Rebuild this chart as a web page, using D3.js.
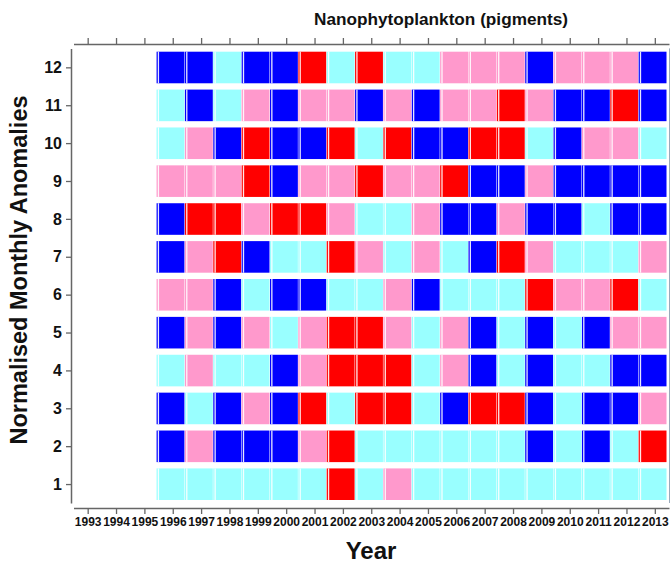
<!DOCTYPE html>
<html>
<head>
<meta charset="utf-8">
<script src="https://cdn.jsdelivr.net/npm/d3@7"></script>
<style>
  html, body { margin: 0; padding: 0; background: #fff; }
  svg { display: block; font-family: Arial, "Liberation Sans", sans-serif; }
</style>
</head>
<body>
<svg id="chart" width="671" height="564"></svg>
<script>
// ---- data ----
const years = [1996,1997,1998,1999,2000,2001,2002,2003,2004,2005,2006,2007,2008,2009,2010,2011,2012,2013];
const tickYears = d3.range(1993, 2014);
const months = [1,2,3,4,5,6,7,8,9,10,11,12];
// anomaly class per month (rows) per year: B = strong negative, C = weak negative, P = weak positive, R = strong positive
const month1  = ["C","C","C","C","C","C","R","C","P","C","C","C","C","C","C","C","C","C"];
const month2  = ["B","P","B","B","B","P","R","C","C","C","C","C","C","B","C","B","C","R"];
const month3  = ["B","C","B","P","B","R","C","R","R","C","B","R","R","B","C","B","B","P"];
const month4  = ["C","P","C","C","B","P","R","R","R","C","P","B","C","B","C","C","B","B"];
const month5  = ["B","P","B","P","C","P","R","R","P","C","P","B","C","B","C","B","P","P"];
const month6  = ["P","P","B","C","B","B","C","C","P","B","C","C","C","R","P","P","R","C"];
const month7  = ["B","P","R","B","C","C","R","P","C","P","C","B","R","P","C","C","C","P"];
const month8  = ["B","R","R","P","R","R","P","C","C","P","B","B","P","B","B","C","B","B"];
const month9  = ["P","P","P","R","B","P","P","R","P","P","R","B","B","P","B","B","B","B"];
const month10 = ["C","P","B","R","B","B","R","C","R","B","B","R","R","C","B","P","P","C"];
const month11 = ["C","B","C","P","B","P","P","B","P","B","P","P","R","P","B","B","R","B"];
const month12 = ["B","B","C","B","B","R","C","R","C","C","P","P","P","B","P","P","P","B"];
const monthRows = [month1,month2,month3,month4,month5,month6,month7,month8,month9,month10,month11,month12];
const classColors = {B: "#0000FF", C: "#99FFFF", P: "#FF99CC", R: "#FF0000"};

const titleText = "Nanophytoplankton (pigments)";
const xTitle = "Year";
const yTitle = "Normalised Monthly Anomalies";

// ---- drawing ----
const svg = d3.select("#chart");
const x = d3.scaleLinear().domain([1992.5, 2013.5]).range([73.5, 669]);
const y = d3.scaleLinear().domain([0.5, 12.5]).range([503, 48.4]);
const axisColor = "#666";

const cells = [];
months.forEach((m, i) => {
  years.forEach((yr, j) => {
    cells.push({month: m, year: yr, cls: monthRows[i][j]});
  });
});

const g = svg.append("g");
g.selectAll("rect.cell").data(cells).enter().append("rect")
  .attr("class", "cell")
  .attr("x", d => x(d.year - 0.5) - 2)
  .attr("y", d => y(d.month + 0.5) + 3.3)
  .attr("width", d => x(d.year + 0.5) - x(d.year - 0.5) - 0.5)
  .attr("height", d => y(d.month - 0.5) - y(d.month + 0.5) - 6.3)
  .attr("fill", d => classColors[d.cls]);
// thin white separators inside each cell's left edge
g.selectAll("rect.sep").data(cells).enter().append("rect")
  .attr("class", "sep")
  .attr("x", d => x(d.year - 0.5) - 0.8)
  .attr("y", d => y(d.month + 0.5) + 3.3)
  .attr("width", 1.3)
  .attr("height", d => y(d.month - 0.5) - y(d.month + 0.5) - 6.3)
  .attr("fill", "#fff")
  .attr("opacity", 0.9);

// bottom axis
const xAxisB = d3.axisBottom(x).tickValues(tickYears).tickFormat(d3.format("d")).tickSizeInner(6).tickSizeOuter(0).tickPadding(3);
const gb = svg.append("g").attr("transform", "translate(0,508)").call(xAxisB);
gb.select(".domain").attr("stroke", axisColor).attr("stroke-width", 1.5);
gb.selectAll(".tick line").attr("stroke", axisColor).attr("stroke-width", 1.3);
gb.selectAll(".tick text").attr("fill", "#111").attr("font-size", 12).attr("font-weight", "bold")
  .attr("font-family", "Arial, 'Liberation Sans', sans-serif");

// top axis
const xAxisT = d3.axisTop(x).tickValues(tickYears).tickFormat("").tickSizeInner(6).tickSizeOuter(0);
const gt = svg.append("g").attr("transform", "translate(0,44)").call(xAxisT);
gt.select(".domain").attr("stroke", axisColor).attr("stroke-width", 1.5);
gt.selectAll(".tick line").attr("stroke", axisColor).attr("stroke-width", 1.3);

// left axis
const yAxis = d3.axisLeft(y).tickValues(months).tickFormat(d3.format("d")).tickSizeInner(5).tickSizeOuter(0).tickPadding(4);
const gl = svg.append("g").attr("transform", "translate(71,0)").call(yAxis);
gl.select(".domain").attr("stroke", axisColor).attr("stroke-width", 1.5);
gl.selectAll(".tick line").attr("stroke", axisColor).attr("stroke-width", 1.3);
gl.selectAll(".tick text").attr("fill", "#111").attr("font-size", 16).attr("font-weight", "bold")
  .attr("font-family", "Arial, 'Liberation Sans', sans-serif");

// right frame line
svg.append("line").attr("x1", 669.5).attr("x2", 669.5).attr("y1", y(12.5)).attr("y2", y(0.5))
  .attr("stroke", "#9ab").attr("stroke-width", 1);

// titles
svg.append("text").attr("x", 441).attr("y", 25).attr("text-anchor", "middle")
  .attr("font-size", 17.2).attr("font-weight", "bold").attr("fill", "#111").text(titleText);
svg.append("text").attr("x", 371).attr("y", 559).attr("text-anchor", "middle")
  .attr("font-size", 24).attr("font-weight", "bold").attr("fill", "#111").text(xTitle);
svg.append("text").attr("transform", "translate(27,270) rotate(-90)").attr("text-anchor", "middle")
  .attr("font-size", 23.5).attr("font-weight", "bold").attr("fill", "#111").text(yTitle);
</script>
</body>
</html>
